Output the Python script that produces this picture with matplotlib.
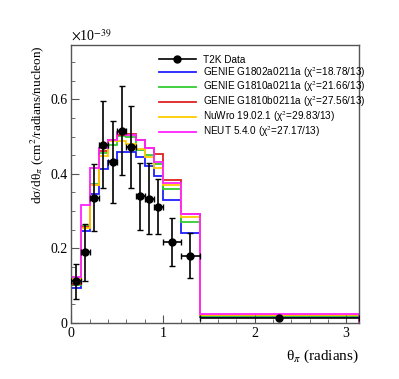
import numpy as np
import matplotlib
matplotlib.use("Agg")
import matplotlib.pyplot as plt
from matplotlib.ticker import MultipleLocator
from matplotlib.lines import Line2D

# bin edges in theta_pi (radians), last bin runs to pi
edges = [0.0, 0.1, 0.2, 0.3, 0.4, 0.5, 0.6, 0.7, 0.8, 0.9, 1.0, 1.2, 1.4, np.pi]

# T2K data (x 1e-39 cm^2/radians/nucleon)
data_x = [0.05, 0.15, 0.25, 0.35, 0.45, 0.55, 0.65, 0.75, 0.85, 0.95, 1.1, 1.3, 2.27]
data_y = [0.111, 0.189, 0.336, 0.478, 0.431, 0.516, 0.472, 0.339, 0.333, 0.312, 0.217, 0.180, 0.013]
data_err = [0.047, 0.076, 0.090, 0.117, 0.110, 0.120, 0.110, 0.090, 0.095, 0.075, 0.065, 0.060, 0.003]

# generator predictions
genie_1802a = [0.093, 0.245, 0.345, 0.413, 0.435, 0.458, 0.458, 0.444, 0.422, 0.395, 0.330, 0.242, 0.015]
genie_1810a = [0.100, 0.259, 0.372, 0.455, 0.478, 0.502, 0.500, 0.465, 0.450, 0.425, 0.359, 0.269, 0.017]
genie_1810b = [0.104, 0.257, 0.370, 0.462, 0.490, 0.505, 0.507, 0.490, 0.468, 0.454, 0.382, 0.293, 0.019]
nuwro = [0.117, 0.255, 0.370, 0.448, 0.487, 0.487, 0.480, 0.466, 0.446, 0.415, 0.369, 0.285, 0.020]
neut = [0.123, 0.317, 0.415, 0.469, 0.491, 0.512, 0.503, 0.490, 0.469, 0.433, 0.375, 0.293, 0.022]

models = [
    (genie_1802a, "#1f1fff", "GENIE G1802a0211a (χ$^{2}$=18.78/13)"),
    (genie_1810a, "#33cc33", "GENIE G1810a0211a (χ$^{2}$=21.66/13)"),
    (genie_1810b, "#dd2222", "GENIE G1810b0211a (χ$^{2}$=27.56/13)"),
    (nuwro, "#ffcc00", "NuWro 19.02.1 (χ$^{2}$=29.83/13)"),
    (neut, "#ff22ff", "NEUT 5.4.0 (χ$^{2}$=27.17/13)"),
]

plt.rcParams["font.family"] = "Liberation Serif"
plt.rcParams["mathtext.fontset"] = "stix"

fig = plt.figure(figsize=(3.99, 3.79), dpi=100)
ax = fig.add_axes([0.179, 0.149, 0.721, 0.732])

x_half = [(edges[i + 1] - edges[i]) / 2 for i in range(len(data_x))]
ax.errorbar(data_x, data_y, yerr=data_err, xerr=x_half, fmt="o", color="black",
            ms=5, lw=1.2, capsize=2, capthick=1.0, zorder=5)
handles = [Line2D([], [], color="black", lw=1.2, marker="o", ms=5)]
labels = ["T2K Data"]

for vals, col, lab in models:
    ax.stairs(vals, edges, baseline=0, color=col, lw=1.3)
    handles.append(Line2D([], [], color=col, lw=1.3))
    labels.append(lab)

ax.set_xlim(0, np.pi)
ax.set_ylim(0, 0.746)
ax.xaxis.set_major_locator(MultipleLocator(1))
ax.xaxis.set_minor_locator(MultipleLocator(0.2))
ax.yaxis.set_minor_locator(MultipleLocator(0.05))
ax.set_yticks([0, 0.2, 0.4, 0.6])
ax.set_yticklabels(["0", "0.2", "0.4", "0.6"])
ax.tick_params(which="both", direction="in", top=False, right=False, labelsize=10, color="#555555")
ax.tick_params(which="major", length=5.8, pad=3)
ax.tick_params(which="minor", length=2.9)
for sp in ax.spines.values():
    sp.set_color("#555555")
    sp.set_linewidth(1.0)

ax.set_xlabel("θ$_{\\pi}$ (radians)", loc="right", fontsize=11, labelpad=6)
ax.set_ylabel("dσ/dθ$_{\\pi}$ (cm$^{2}$/radians/nucleon)", loc="top", fontsize=9.5, labelpad=3)
ax.text(0.0, 1.005, r"$\times$10$^{-39}$", transform=ax.transAxes, fontsize=10, ha="left", va="bottom")

ax.legend(handles, labels, loc="upper left", bbox_to_anchor=(0.29, 0.98), frameon=False,
          handlelength=3.7, handletextpad=0.7, labelspacing=0.0, borderaxespad=0,
          prop={"family": "Liberation Sans", "size": 7.2})

fig.savefig("out.png", dpi=100)
